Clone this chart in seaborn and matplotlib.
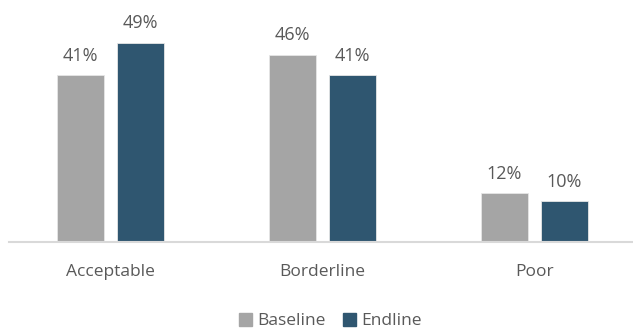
import matplotlib
matplotlib.use("Agg")
import matplotlib.pyplot as plt
import seaborn as sns
import pandas as pd

categories = ["Acceptable", "Borderline", "Poor"]
series_names = ["Baseline", "Endline"]
baseline = [41, 46, 12]
endline = [49, 41, 10]

df = pd.DataFrame({
    "category": categories * 2,
    "period": [series_names[0]] * 3 + [series_names[1]] * 3,
    "value": baseline + endline,
})

sns.set_theme(style="white")
plt.rcParams["font.family"] = ["Open Sans", "DejaVu Sans"]

text_color = "#595959"
palette = {"Baseline": "#a5a5a5", "Endline": "#2f5670"}

fig = plt.figure(figsize=(6.33, 3.29), dpi=100)
W, H = 633, 329
ax = fig.add_axes([9 / W, (H - 242) / H, (W - 9) / W, 232 / H])

sns.barplot(data=df, x="category", y="value", hue="period", order=categories,
            hue_order=series_names, palette=palette, width=0.566, gap=0.216,
            saturation=1, edgecolor="#e6e6e6", linewidth=0.6, ax=ax)

ax.set_xlim(-0.479, 2.465)
ax.set_ylim(0, 57)

for container in ax.containers:
    ax.bar_label(container, fmt="%d%%", padding=7.5, fontsize=13, color=text_color)

for s in ["top", "left", "right"]:
    ax.spines[s].set_visible(False)
ax.spines["bottom"].set_color("#d9d9d9")
ax.spines["bottom"].set_linewidth(1.5)

ax.set_xlabel("")
ax.set_ylabel("")
ax.set_yticks([])
ax.tick_params(axis="x", length=0, pad=16, labelsize=12.5, labelcolor=text_color)

ax.legend_.remove()
handles = [plt.Rectangle((0, 0), 1, 1, color=palette[n]) for n in series_names]
fig.legend(handles, series_names, loc="center", bbox_to_anchor=(330 / W, 1 - 321 / H),
           ncol=2, frameon=False, fontsize=12.5, labelcolor=text_color,
           handlelength=0.75, handleheight=0.75, handletextpad=0.3, columnspacing=1.0)

fig.savefig("out.png", dpi=100)
